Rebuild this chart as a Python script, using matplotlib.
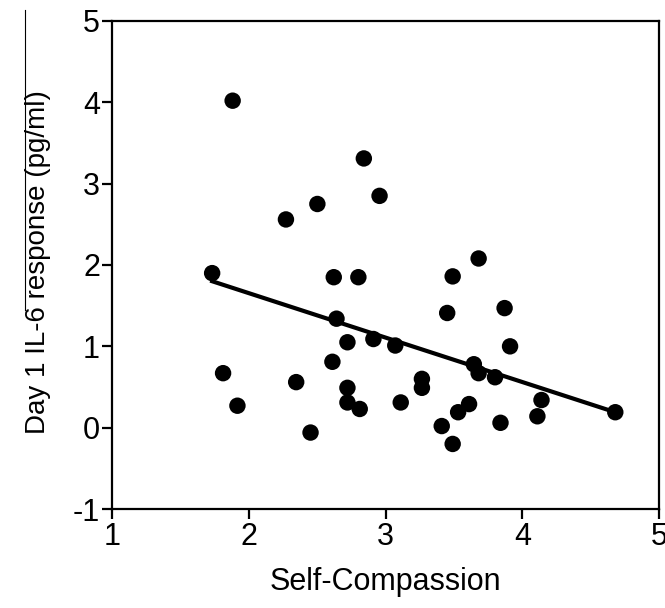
import matplotlib
matplotlib.use("Agg")
import matplotlib.pyplot as plt
import numpy as np
from matplotlib.lines import Line2D

plt.rcParams['font.family'] = ['Liberation Sans', 'DejaVu Sans']
plt.rcParams['axes.unicode_minus'] = False

self_compassion = [1.88, 2.84, 2.955, 2.50, 2.27, 1.73, 2.62, 2.80, 2.64, 2.72,
                   2.91, 3.07, 2.61, 1.81, 2.345, 2.72, 2.72, 2.81, 1.915, 2.45,
                   3.11, 3.68, 3.49, 3.87, 3.45, 3.91, 3.645, 3.68, 3.80, 3.265,
                   3.265, 4.14, 3.61, 3.53, 4.11, 3.84, 3.41, 3.49, 4.68]
il6_response = [4.02, 3.31, 2.85, 2.75, 2.56, 1.90, 1.85, 1.85, 1.34, 1.05,
                1.09, 1.01, 0.81, 0.67, 0.56, 0.49, 0.31, 0.23, 0.27, -0.06,
                0.31, 2.08, 1.86, 1.47, 1.41, 1.00, 0.78, 0.67, 0.62, 0.60,
                0.49, 0.34, 0.29, 0.19, 0.14, 0.06, 0.02, -0.20, 0.19]
fit_slope = -0.546
fit_intercept = 2.745
x_ticks = [1, 2, 3, 4, 5]
y_ticks = [-1, 0, 1, 2, 3, 4, 5]

fig = plt.figure(figsize=(6.65, 6.08), dpi=100)
ax = fig.add_axes([0.169, 0.1628, 0.822, 0.8027])

x = np.array(self_compassion)
y = np.array(il6_response)
xl = np.array([x.min(), x.max()])
ax.plot(xl, fit_intercept + fit_slope * xl, color='black', lw=3, zorder=2)
ax.scatter(x, y, s=140, color='black', zorder=3, edgecolors='none')

ax.set_xlim(1, 5)
ax.set_ylim(-1, 5)
ax.set_xticks(x_ticks)
ax.set_yticks(y_ticks)
for s in ax.spines.values():
    s.set_linewidth(1.6)
ax.tick_params(direction='out', length=7, width=1.6, labelsize=22, pad=2)
ax.set_xlabel('Self-Compassion', fontsize=22)
ax.xaxis.set_label_coords(0.5, -0.118)
ax.set_ylabel('Day 1 IL-6 response (pg/ml)', fontsize=20)
ax.yaxis.set_label_coords(-0.112, 0.507)

fig.add_artist(Line2D([25/665, 25/665], [1 - 10/608, 1 - 310/608],
                      transform=fig.transFigure, color='black', lw=0.8))

fig.savefig('out.png', dpi=100)
